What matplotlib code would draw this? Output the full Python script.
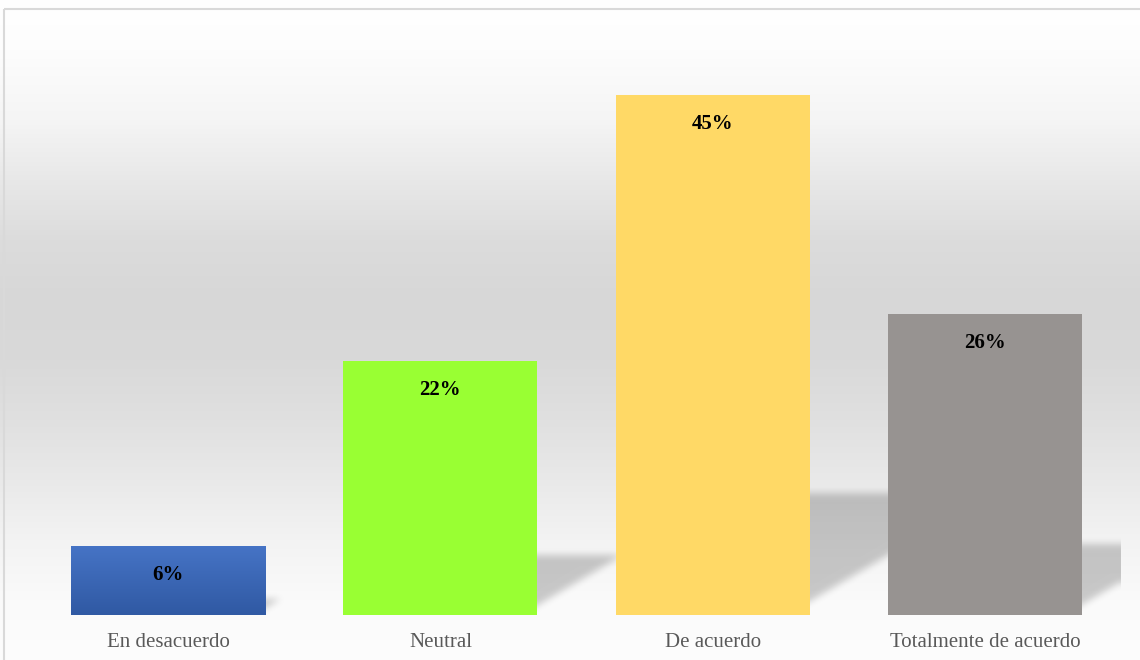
import numpy as np
import matplotlib
matplotlib.use("Agg")
import matplotlib.pyplot as plt
from matplotlib.patches import Rectangle

categories = ["En desacuerdo", "Neutral", "De acuerdo", "Totalmente de acuerdo"]
values = [6, 22, 45, 26]
labels = ["6%", "22%", "45%", "26%"]
colors = ["#3F6CBE", "#99FF33", "#FFD966", "#979391"]

W, H = 1140, 660
fig = plt.figure(figsize=(W / 100, H / 100), dpi=100)

# ---- background gradient (figure level) ----
bg = fig.add_axes([0, 0, 1, 1], zorder=0)
bg.set_xlim(0, W)
bg.set_ylim(H, 0)
bg.axis("off")
stops_y = [0, 50, 120, 180, 240, 300, 360, 420, 480, 540, 600, 660]
stops_v = [255, 253, 245, 232, 220, 215, 217, 224, 233, 243, 250, 253]
rows = np.interp(np.arange(H) + 0.5, stops_y, stops_v) / 255.0
grad = np.repeat(rows[:, None], 2, axis=1)
bg.imshow(np.dstack([grad, grad, grad]), extent=(0, W, H, 0), aspect="auto",
          interpolation="bilinear")
bg.add_patch(Rectangle((3.5, 8.5), W + 10, H + 10, fill=False,
                       edgecolor="#d9d9d9", linewidth=1.5))

# ---- main axes ----
left, right = 32, 1121
bottom_px, top_px = 615, 37
ax = fig.add_axes([left / W, (H - bottom_px) / H, (right - left) / W,
                   (bottom_px - top_px) / H], zorder=1)
ax.set_facecolor("none")
x = np.arange(len(categories))
ax.set_xlim(-0.5, len(categories) - 0.5)
ax.set_ylim(0, 50)
bar_w = 0.713

bars = ax.bar(x, values, width=bar_w, color=colors, zorder=3)

# gradient on the first (blue) bar
b0 = bars[0]
g = np.linspace(0, 1, 100)[:, None]
top_c = np.array([0x46, 0x74, 0xC6]) / 255
bot_c = np.array([0x30, 0x59, 0xA3]) / 255
img = top_c[None, None, :] * (1 - g[..., None]) + bot_c[None, None, :] * g[..., None]
img = np.repeat(img, 2, axis=1)
im = ax.imshow(img, extent=(b0.get_x(), b0.get_x() + b0.get_width(), 0, b0.get_height()),
               aspect="auto", zorder=3.5, interpolation="bilinear")
im.set_clip_path(b0)

# ---- perspective shadows ----
bbox = ax.bbox
aw, ah = int(round(bbox.width)), int(round(bbox.height))
xs = np.arange(aw) + 0.5
ys = np.arange(ah) + 0.5
XX, YY = np.meshgrid(xs, ys)
mask = np.zeros((ah, aw))
for b in bars:
    (x0, y0) = ax.transData.transform((b.get_x(), 0)) - [bbox.x0, bbox.y0]
    (x1, y1) = ax.transData.transform((b.get_x() + b.get_width(), b.get_height())) - [bbox.x0, bbox.y0]
    hpx = y1 - y0
    hs = 0.235 * hpx
    yoff = 0.015 * hpx + 6
    slope = 1.7
    inside = (YY <= hs) & (XX >= x0 + 25) & (XX <= x1 + slope * (YY - yoff))
    mask = np.maximum(mask, inside.astype(float))


def box_blur(a, r):
    for axis in (0, 1):
        padw = [(r, r) if k == axis else (0, 0) for k in range(2)]
        p = np.pad(a, padw, mode="edge")
        c = np.cumsum(p, axis=axis)
        c = np.insert(c, 0, 0, axis=axis)
        n = a.shape[axis]
        a = (np.take(c, np.arange(2 * r + 1, 2 * r + 1 + n), axis=axis)
             - np.take(c, np.arange(0, n), axis=axis)) / (2 * r + 1)
    return a


mask = box_blur(box_blur(box_blur(mask, 3), 3), 3)
shadow = np.zeros((ah, aw, 4))
shadow[..., 3] = 0.2 * mask
ax.imshow(shadow, extent=(ax.get_xlim()[0], ax.get_xlim()[1], 0, 50), origin="lower",
          aspect="auto", zorder=2, interpolation="bilinear")
ax.set_xlim(-0.5, len(categories) - 0.5)
ax.set_ylim(0, 50)

# ---- labels ----
for xi, v, lab in zip(x, values, labels):
    ax.annotate(lab, (xi, v), xytext=(0, -24.5), textcoords="offset points",
                ha="center", va="baseline", fontsize=15, fontweight="bold",
                family="Liberation Serif", color="black", zorder=5)

ax.set_xticks(x)
ax.set_xticklabels(categories, fontsize=15, family="Liberation Serif", color="#595959")
ax.tick_params(axis="x", length=0, pad=13)
ax.set_yticks([])
for s in ["left", "right", "top", "bottom"]:
    ax.spines[s].set_visible(False)

fig.savefig("out.png", dpi=100)
